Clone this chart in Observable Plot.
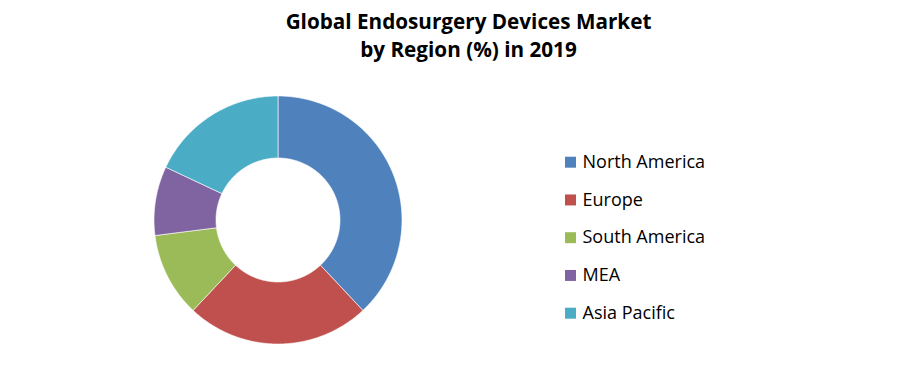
<!DOCTYPE html>
<html>
<head>
<meta charset="utf-8">
<script src="https://cdn.jsdelivr.net/npm/d3@7"></script>
<script src="https://cdn.jsdelivr.net/npm/@observablehq/plot@0.6"></script>
<style>
  html, body { margin: 0; padding: 0; background: #fff; }
  #chart { width: 898px; height: 384px; }
</style>
</head>
<body>
<div id="chart"></div>
<script>
// Data
const regions = ["North America", "Europe", "South America", "MEA", "Asia Pacific"];
const shares = [38, 24, 11, 9, 18];
const colors = ["#4F81BD", "#C0504D", "#9BBB59", "#8064A2", "#4BACC6"];
const titleLines = ["Global Endosurgery Devices Market", "by Region (%) in 2019"];

// Layout (pixels)
const W = 898, H = 384;
const cx = 277.5, cy = 219.5, rOuter = 124, rInner = 62;

const rows = regions.map((r, i) => ({region: r, value: shares[i]}));
const pie = d3.pie().sort(null).value(d => d.value).startAngle(0).endAngle(2 * Math.PI)(rows);

// slice outlines: outer arc then inner arc back
const slicePts = [];
for (const s of pie) {
  const n = Math.max(8, Math.ceil((s.endAngle - s.startAngle) / 0.01));
  const pts = [];
  for (let k = 0; k <= n; k++) {
    const a = s.startAngle + (s.endAngle - s.startAngle) * k / n;
    pts.push([rOuter * Math.sin(a), -rOuter * Math.cos(a)]);
  }
  for (let k = n; k >= 0; k--) {
    const a = s.startAngle + (s.endAngle - s.startAngle) * k / n;
    pts.push([rInner * Math.sin(a), -rInner * Math.cos(a)]);
  }
  pts.push(pts[0]);
  for (const [dx, dy] of pts) slicePts.push({region: s.data.region, x: cx + dx, y: cy + dy});
}

const legendX = 570, legendY0 = 161.7, legendStep = 37.75;
const legendRows = regions.map((r, i) => ({region: r, x: legendX, y: legendY0 + i * legendStep}));

const chart = Plot.plot({
  width: W, height: H,
  margin: 0,
  style: {background: "#fff", overflow: "visible"},
  x: {domain: [0, W], range: [0, W], axis: null},
  y: {domain: [0, H], range: [0, H], axis: null},
  color: {domain: regions, range: colors},
  marks: [
    Plot.line(slicePts, {x: "x", y: "y", z: "region", fill: "region", stroke: "#fff", strokeWidth: 0.6, curve: "linear"}),
    Plot.dot(legendRows, {x: "x", y: "y", symbol: "square", r: 6.2, fill: "region", stroke: null}),
    Plot.text(legendRows, {x: d => d.x + 12, y: "y", text: "region", textAnchor: "start", dy: 0,
      fontFamily: "Open Sans", fontSize: 18, fill: "#000"}),
    Plot.text([titleLines.join("\n")], {x: () => 468, y: () => 9, text: d => d, lineAnchor: "top",
      lineHeight: 1.35, fontFamily: "Open Sans", fontWeight: "bold", fontSize: 20.7, fill: "#000"})
  ]
});
document.getElementById("chart").appendChild(chart);
</script>
</body>
</html>
